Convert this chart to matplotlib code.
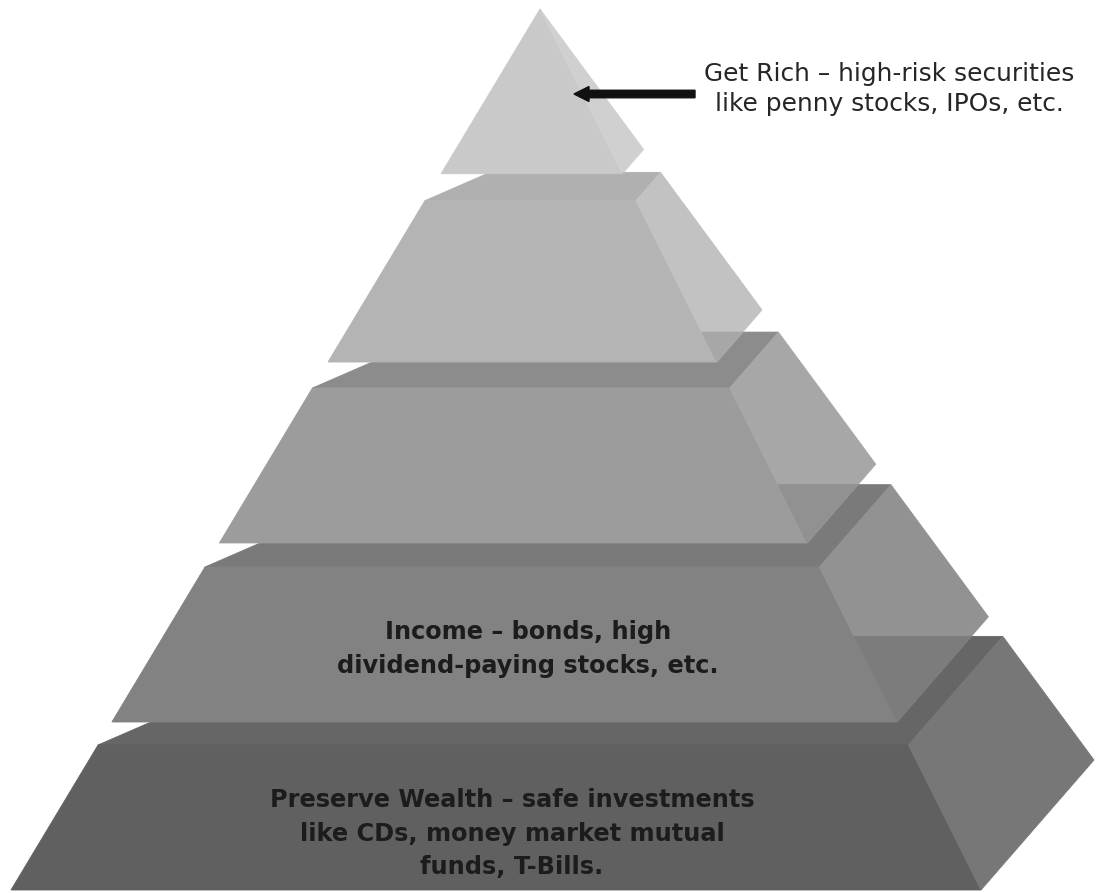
import matplotlib
matplotlib.use("Agg")
import matplotlib.pyplot as plt
from matplotlib.patches import Polygon, FancyArrow
import numpy as np

# ---------------- data ----------------
label_lines = [
    ["Get Rich \u2013 high-risk securities", "like penny stocks, IPOs, etc."],
    [],
    [],
    ["Income \u2013 bonds, high", "dividend-paying stocks, etc."],
    ["Preserve Wealth \u2013 safe investments", "like CDs, money market mutual", "funds, T-Bills."],
]
front_colors = ["#c9c9c9", "#b4b4b4", "#9c9c9c", "#828282", "#606060"]
side_colors = ["#d0d0d0", "#c2c2c2", "#a7a7a7", "#929292", "#777777"]
top_colors = [None, "#b0b0b0", "#8c8c8c", "#7a7a7a", "#666666"]

# ---------------- geometry (projected pyramid, pixel space) ----------------
W, H = 1096, 893
APEX = np.array([540.0, 9.0])
FL = np.array([11.0, 890.0])
FR = np.array([981.0, 890.0])
BR = np.array([1094.0, 760.0])
BL = np.array([310.0, 760.0])
tier_top_s = [0.0, 0.2175, 0.4302, 0.6334, 0.8354]
tier_bot_s = [0.187, 0.4007, 0.6061, 0.8093, 1.0]


def pt(corner, s):
    return APEX + s * (corner - APEX)


def clip_below(poly, yc):
    """Keep the part of a polygon with y >= yc (screen coords)."""
    out = []
    n = len(poly)
    for i in range(n):
        p, q = poly[i], poly[(i + 1) % n]
        pin, qin = p[1] >= yc, q[1] >= yc
        if pin:
            out.append(p)
        if pin != qin:
            t = (yc - p[1]) / (q[1] - p[1])
            out.append(p + t * (q - p))
    return out


def blend(c1, c2):
    a = np.array(matplotlib.colors.to_rgb(c1))
    b = np.array(matplotlib.colors.to_rgb(c2))
    return tuple((a + b) / 2)


fig = plt.figure(figsize=(W / 100, H / 100), dpi=100)
ax = fig.add_axes([0, 0, 1, 1])
ax.set_xlim(0, W)
ax.set_ylim(H, 0)
ax.axis("off")


def add_poly(verts, color, z):
    ax.add_patch(Polygon(np.array(verts), closed=True, facecolor=color,
                         edgecolor=color, linewidth=0.6, zorder=z))


n = len(tier_top_s)
for i in range(n - 1, -1, -1):
    st, sb = tier_top_s[i], tier_bot_s[i]
    z = 10 * (n - i)
    if st > 0:
        add_poly([pt(FL, st), pt(FR, st), pt(BR, st), pt(BL, st)], top_colors[i], z)
    add_poly([pt(FL, sb), pt(FR, sb), pt(FR, st), pt(FL, st)], front_colors[i], z + 1)
    side = [pt(FR, sb), pt(BR, sb), pt(BR, st), pt(FR, st)]
    add_poly(side, side_colors[i], z + 2)
    if i < n - 1:
        yc = pt(BR, tier_top_s[i + 1])[1]
        part = clip_below(side, yc)
        if len(part) >= 3:
            add_poly(part, blend(side_colors[i], top_colors[i + 1]), z + 3)

# ---------------- labels ----------------
label_x = [889, None, None, 528, 512]
label_base_y = [80.7, None, None, 639.3, 807.3]
line_step = [30.7, None, None, 34.0, 33.4]
label_bold = [False, None, None, True, True]
label_size = [17.9, None, None, 17.3, 17.3]

for i, lines in enumerate(label_lines):
    for k, line in enumerate(lines):
        ax.text(label_x[i], label_base_y[i] + k * line_step[i], line,
                ha="center", va="baseline", fontsize=label_size[i],
                fontweight="bold" if label_bold[i] else "normal",
                family="DejaVu Sans",
                color="#1c1c1c" if label_bold[i] else "#262626", zorder=100)

# arrow pointing at the top tier
ax.add_patch(FancyArrow(695, 94, -121, 0, width=7.5, head_width=15,
                        head_length=15, length_includes_head=True,
                        color="#111111", zorder=101))

fig.savefig("out.png", dpi=100)
